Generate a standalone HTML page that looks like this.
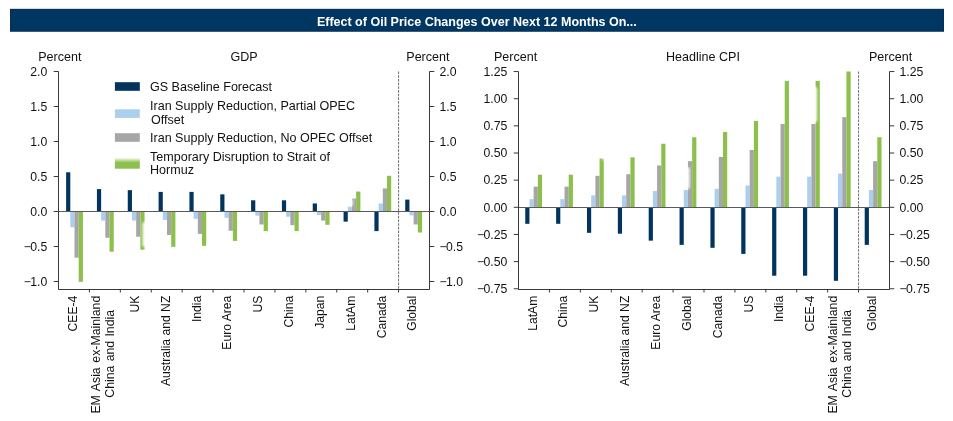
<!DOCTYPE html><html><head><meta charset="utf-8"><title>Effect of Oil Price Changes</title>
<style>html,body{margin:0;padding:0;background:#fff}body{width:953px;height:421px;overflow:hidden}svg{display:block;will-change:transform}text{font-family:"Liberation Sans",sans-serif;fill:#111}</style></head><body>
<svg width="953" height="421" viewBox="0 0 953 421">
<rect width="953" height="421" fill="#fff"/>
<rect x="10" y="8.9" width="934" height="22.7" fill="#003762"/>
<rect x="10.5" y="9.4" width="933" height="21.7" fill="none" stroke="#0a2d50" stroke-opacity="0.75" stroke-width="1"/>
<text x="476.85" y="25.8" text-anchor="middle" font-size="12.53" font-weight="bold" style="fill:#fff">Effect of Oil Price Changes Over Next 12 Months On...</text>
<rect x="66.10" y="172.30" width="4.2" height="39.20" fill="#02345d"/>
<rect x="70.30" y="211.50" width="4.2" height="15.75" fill="#abd0ee"/>
<rect x="74.50" y="211.50" width="4.2" height="46.20" fill="#a6a6a6"/>
<rect x="78.70" y="211.50" width="4.2" height="70.35" fill="#8cbf4b"/>
<rect x="96.93" y="189.10" width="4.2" height="22.40" fill="#02345d"/>
<rect x="101.13" y="211.50" width="4.2" height="9.10" fill="#abd0ee"/>
<rect x="105.33" y="211.50" width="4.2" height="26.25" fill="#a6a6a6"/>
<rect x="109.53" y="211.50" width="4.2" height="40.25" fill="#8cbf4b"/>
<rect x="127.76" y="190.15" width="4.2" height="21.35" fill="#02345d"/>
<rect x="131.96" y="211.50" width="4.2" height="9.10" fill="#abd0ee"/>
<rect x="136.16" y="211.50" width="4.2" height="25.20" fill="#a6a6a6"/>
<rect x="140.36" y="211.50" width="4.2" height="38.15" fill="#8cbf4b"/>
<rect x="158.59" y="191.90" width="4.2" height="19.60" fill="#02345d"/>
<rect x="162.79" y="211.50" width="4.2" height="8.40" fill="#abd0ee"/>
<rect x="166.99" y="211.50" width="4.2" height="23.45" fill="#a6a6a6"/>
<rect x="171.19" y="211.50" width="4.2" height="35.35" fill="#8cbf4b"/>
<rect x="189.42" y="191.90" width="4.2" height="19.60" fill="#02345d"/>
<rect x="193.62" y="211.50" width="4.2" height="7.35" fill="#abd0ee"/>
<rect x="197.82" y="211.50" width="4.2" height="22.40" fill="#a6a6a6"/>
<rect x="202.02" y="211.50" width="4.2" height="34.30" fill="#8cbf4b"/>
<rect x="220.25" y="194.35" width="4.2" height="17.15" fill="#02345d"/>
<rect x="224.45" y="211.50" width="4.2" height="6.30" fill="#abd0ee"/>
<rect x="228.65" y="211.50" width="4.2" height="19.25" fill="#a6a6a6"/>
<rect x="232.85" y="211.50" width="4.2" height="29.40" fill="#8cbf4b"/>
<rect x="251.08" y="200.30" width="4.2" height="11.20" fill="#02345d"/>
<rect x="255.28" y="211.50" width="4.2" height="4.20" fill="#abd0ee"/>
<rect x="259.48" y="211.50" width="4.2" height="12.95" fill="#a6a6a6"/>
<rect x="263.68" y="211.50" width="4.2" height="19.60" fill="#8cbf4b"/>
<rect x="281.91" y="200.30" width="4.2" height="11.20" fill="#02345d"/>
<rect x="286.11" y="211.50" width="4.2" height="5.25" fill="#abd0ee"/>
<rect x="290.31" y="211.50" width="4.2" height="13.65" fill="#a6a6a6"/>
<rect x="294.51" y="211.50" width="4.2" height="19.60" fill="#8cbf4b"/>
<rect x="312.74" y="203.45" width="4.2" height="8.05" fill="#02345d"/>
<rect x="316.94" y="211.50" width="4.2" height="3.50" fill="#abd0ee"/>
<rect x="321.14" y="211.50" width="4.2" height="9.10" fill="#a6a6a6"/>
<rect x="325.34" y="211.50" width="4.2" height="13.30" fill="#8cbf4b"/>
<rect x="343.57" y="211.50" width="4.2" height="10.15" fill="#02345d"/>
<rect x="347.77" y="206.60" width="4.2" height="4.90" fill="#abd0ee"/>
<rect x="351.97" y="198.55" width="4.2" height="12.95" fill="#a6a6a6"/>
<rect x="356.17" y="191.55" width="4.2" height="19.95" fill="#8cbf4b"/>
<rect x="374.40" y="211.50" width="4.2" height="19.60" fill="#02345d"/>
<rect x="378.60" y="203.45" width="4.2" height="8.05" fill="#abd0ee"/>
<rect x="382.80" y="188.40" width="4.2" height="23.10" fill="#a6a6a6"/>
<rect x="387.00" y="175.80" width="4.2" height="35.70" fill="#8cbf4b"/>
<rect x="405.23" y="199.60" width="4.2" height="11.90" fill="#02345d"/>
<rect x="409.43" y="211.50" width="4.2" height="3.85" fill="#abd0ee"/>
<rect x="413.63" y="211.50" width="4.2" height="12.95" fill="#a6a6a6"/>
<rect x="417.83" y="211.50" width="4.2" height="21.00" fill="#8cbf4b"/>
<line x1="58.5" x2="429.5" y1="211.5" y2="211.5" stroke="#5a5a5a" stroke-width="1"/>
<line x1="398.58" x2="398.58" y1="71.5" y2="289.5" stroke="#484848" stroke-width="0.8" stroke-dasharray="2.6,1.1"/>
<path d="M58.5 71.5V289.5H429.5V71.5" fill="none" stroke="#383838" stroke-width="1"/>
<line x1="53.7" x2="58.5" y1="71.50" y2="71.50" stroke="#383838" stroke-width="1"/>
<line x1="429.5" x2="434.3" y1="71.50" y2="71.50" stroke="#383838" stroke-width="1"/>
<text x="47.3" y="75.80" text-anchor="end" font-size="12.25">2.0</text>
<text x="439.5" y="75.80" text-anchor="start" font-size="12.25">2.0</text>
<line x1="53.7" x2="58.5" y1="106.50" y2="106.50" stroke="#383838" stroke-width="1"/>
<line x1="429.5" x2="434.3" y1="106.50" y2="106.50" stroke="#383838" stroke-width="1"/>
<text x="47.3" y="110.80" text-anchor="end" font-size="12.25">1.5</text>
<text x="439.5" y="110.80" text-anchor="start" font-size="12.25">1.5</text>
<line x1="53.7" x2="58.5" y1="141.50" y2="141.50" stroke="#383838" stroke-width="1"/>
<line x1="429.5" x2="434.3" y1="141.50" y2="141.50" stroke="#383838" stroke-width="1"/>
<text x="47.3" y="145.80" text-anchor="end" font-size="12.25">1.0</text>
<text x="439.5" y="145.80" text-anchor="start" font-size="12.25">1.0</text>
<line x1="53.7" x2="58.5" y1="176.50" y2="176.50" stroke="#383838" stroke-width="1"/>
<line x1="429.5" x2="434.3" y1="176.50" y2="176.50" stroke="#383838" stroke-width="1"/>
<text x="47.3" y="180.80" text-anchor="end" font-size="12.25">0.5</text>
<text x="439.5" y="180.80" text-anchor="start" font-size="12.25">0.5</text>
<line x1="53.7" x2="58.5" y1="211.50" y2="211.50" stroke="#383838" stroke-width="1"/>
<line x1="429.5" x2="434.3" y1="211.50" y2="211.50" stroke="#383838" stroke-width="1"/>
<text x="47.3" y="215.80" text-anchor="end" font-size="12.25">0.0</text>
<text x="439.5" y="215.80" text-anchor="start" font-size="12.25">0.0</text>
<line x1="53.7" x2="58.5" y1="246.50" y2="246.50" stroke="#383838" stroke-width="1"/>
<line x1="429.5" x2="434.3" y1="246.50" y2="246.50" stroke="#383838" stroke-width="1"/>
<text x="47.3" y="250.80" text-anchor="end" font-size="12.25">−<tspan dx="-0.7">0.5</tspan></text>
<text x="439.5" y="250.80" text-anchor="start" font-size="12.25">−<tspan dx="-0.7">0.5</tspan></text>
<line x1="53.7" x2="58.5" y1="281.50" y2="281.50" stroke="#383838" stroke-width="1"/>
<line x1="429.5" x2="434.3" y1="281.50" y2="281.50" stroke="#383838" stroke-width="1"/>
<text x="47.3" y="285.80" text-anchor="end" font-size="12.25">−<tspan dx="-0.7">1.0</tspan></text>
<text x="439.5" y="285.80" text-anchor="start" font-size="12.25">−<tspan dx="-0.7">1.0</tspan></text>
<line x1="89.42" x2="89.42" y1="289.5" y2="292.5" stroke="#383838" stroke-width="1"/>
<line x1="120.33" x2="120.33" y1="289.5" y2="292.5" stroke="#383838" stroke-width="1"/>
<line x1="151.25" x2="151.25" y1="289.5" y2="292.5" stroke="#383838" stroke-width="1"/>
<line x1="182.17" x2="182.17" y1="289.5" y2="292.5" stroke="#383838" stroke-width="1"/>
<line x1="213.08" x2="213.08" y1="289.5" y2="292.5" stroke="#383838" stroke-width="1"/>
<line x1="244.00" x2="244.00" y1="289.5" y2="292.5" stroke="#383838" stroke-width="1"/>
<line x1="274.92" x2="274.92" y1="289.5" y2="292.5" stroke="#383838" stroke-width="1"/>
<line x1="305.83" x2="305.83" y1="289.5" y2="292.5" stroke="#383838" stroke-width="1"/>
<line x1="336.75" x2="336.75" y1="289.5" y2="292.5" stroke="#383838" stroke-width="1"/>
<line x1="367.67" x2="367.67" y1="289.5" y2="292.5" stroke="#383838" stroke-width="1"/>
<line x1="398.58" x2="398.58" y1="289.5" y2="292.5" stroke="#383838" stroke-width="1"/>
<text transform="translate(77.20,295.7) rotate(-90)" text-anchor="end" font-size="12.15">CEE-4</text>
<text transform="translate(99.98,295.7) rotate(-90)" text-anchor="end" font-size="12.3" word-spacing="1.2">EM Asia ex-Mainland</text>
<text transform="translate(114.18,353.8) rotate(-90)" text-anchor="middle" font-size="12.3" word-spacing="0.8">China and India</text>
<text transform="translate(138.86,295.7) rotate(-90)" text-anchor="end" font-size="12.15">UK</text>
<text transform="translate(169.69,295.7) rotate(-90)" text-anchor="end" font-size="12.15">Australia and NZ</text>
<text transform="translate(200.52,295.7) rotate(-90)" text-anchor="end" font-size="12.15">India</text>
<text transform="translate(231.35,295.7) rotate(-90)" text-anchor="end" font-size="12.15">Euro Area</text>
<text transform="translate(262.18,295.7) rotate(-90)" text-anchor="end" font-size="12.15">US</text>
<text transform="translate(293.01,295.7) rotate(-90)" text-anchor="end" font-size="12.15">China</text>
<text transform="translate(323.84,295.7) rotate(-90)" text-anchor="end" font-size="12.15">Japan</text>
<text transform="translate(354.67,295.7) rotate(-90)" text-anchor="end" font-size="12.15">LatAm</text>
<text transform="translate(385.50,295.7) rotate(-90)" text-anchor="end" font-size="12.15">Canada</text>
<text transform="translate(416.33,295.7) rotate(-90)" text-anchor="end" font-size="12.15">Global</text>
<text x="244" y="60.7" text-anchor="middle" font-size="12.55">GDP</text>
<text x="59.8" y="60.7" text-anchor="middle" font-size="12.55">Percent</text>
<text x="427.9" y="60.7" text-anchor="middle" font-size="12.55">Percent</text>
<rect x="525.25" y="207.30" width="4.2" height="16.51" fill="#02345d"/>
<rect x="529.45" y="199.16" width="4.2" height="8.15" fill="#abd0ee"/>
<rect x="533.65" y="186.67" width="4.2" height="20.63" fill="#a6a6a6"/>
<rect x="537.85" y="174.72" width="4.2" height="32.58" fill="#8cbf4b"/>
<rect x="556.11" y="207.30" width="4.2" height="16.51" fill="#02345d"/>
<rect x="560.31" y="199.16" width="4.2" height="8.15" fill="#abd0ee"/>
<rect x="564.51" y="186.67" width="4.2" height="20.63" fill="#a6a6a6"/>
<rect x="568.71" y="174.72" width="4.2" height="32.58" fill="#8cbf4b"/>
<rect x="586.97" y="207.30" width="4.2" height="25.52" fill="#02345d"/>
<rect x="591.17" y="195.35" width="4.2" height="11.95" fill="#abd0ee"/>
<rect x="595.37" y="175.81" width="4.2" height="31.49" fill="#a6a6a6"/>
<rect x="599.57" y="158.43" width="4.2" height="48.87" fill="#8cbf4b"/>
<rect x="617.83" y="207.30" width="4.2" height="26.39" fill="#02345d"/>
<rect x="622.03" y="195.35" width="4.2" height="11.95" fill="#abd0ee"/>
<rect x="626.23" y="174.18" width="4.2" height="33.12" fill="#a6a6a6"/>
<rect x="630.43" y="157.34" width="4.2" height="49.96" fill="#8cbf4b"/>
<rect x="648.69" y="207.30" width="4.2" height="33.34" fill="#02345d"/>
<rect x="652.89" y="191.01" width="4.2" height="16.29" fill="#abd0ee"/>
<rect x="657.09" y="165.49" width="4.2" height="41.81" fill="#a6a6a6"/>
<rect x="661.29" y="143.77" width="4.2" height="63.53" fill="#8cbf4b"/>
<rect x="679.55" y="207.30" width="4.2" height="37.58" fill="#02345d"/>
<rect x="683.75" y="189.92" width="4.2" height="17.38" fill="#abd0ee"/>
<rect x="687.95" y="161.15" width="4.2" height="46.16" fill="#a6a6a6"/>
<rect x="692.15" y="137.25" width="4.2" height="70.05" fill="#8cbf4b"/>
<rect x="710.41" y="207.30" width="4.2" height="40.51" fill="#02345d"/>
<rect x="714.61" y="188.84" width="4.2" height="18.46" fill="#abd0ee"/>
<rect x="718.81" y="156.91" width="4.2" height="50.39" fill="#a6a6a6"/>
<rect x="723.01" y="131.93" width="4.2" height="75.37" fill="#8cbf4b"/>
<rect x="741.27" y="207.30" width="4.2" height="46.59" fill="#02345d"/>
<rect x="745.47" y="185.58" width="4.2" height="21.72" fill="#abd0ee"/>
<rect x="749.67" y="149.96" width="4.2" height="57.34" fill="#a6a6a6"/>
<rect x="753.87" y="120.85" width="4.2" height="86.45" fill="#8cbf4b"/>
<rect x="772.13" y="207.30" width="4.2" height="68.42" fill="#02345d"/>
<rect x="776.33" y="176.67" width="4.2" height="30.63" fill="#abd0ee"/>
<rect x="780.53" y="124.00" width="4.2" height="83.30" fill="#a6a6a6"/>
<rect x="784.73" y="80.89" width="4.2" height="126.41" fill="#8cbf4b"/>
<rect x="802.99" y="207.30" width="4.2" height="68.42" fill="#02345d"/>
<rect x="807.19" y="176.67" width="4.2" height="30.63" fill="#abd0ee"/>
<rect x="811.39" y="124.00" width="4.2" height="83.30" fill="#a6a6a6"/>
<rect x="815.59" y="80.89" width="4.2" height="126.41" fill="#8cbf4b"/>
<rect x="833.85" y="207.30" width="4.2" height="73.52" fill="#02345d"/>
<rect x="838.05" y="173.63" width="4.2" height="33.67" fill="#abd0ee"/>
<rect x="842.25" y="117.16" width="4.2" height="90.14" fill="#a6a6a6"/>
<rect x="846.45" y="71.50" width="4.2" height="135.80" fill="#8cbf4b"/>
<rect x="864.71" y="207.30" width="4.2" height="37.58" fill="#02345d"/>
<rect x="868.91" y="189.92" width="4.2" height="17.38" fill="#abd0ee"/>
<rect x="873.11" y="161.15" width="4.2" height="46.16" fill="#a6a6a6"/>
<rect x="877.31" y="137.25" width="4.2" height="70.05" fill="#8cbf4b"/>
<line x1="518.5" x2="889.5" y1="207.5" y2="207.5" stroke="#5a5a5a" stroke-width="1"/>
<line x1="858.58" x2="858.58" y1="71.5" y2="289.5" stroke="#484848" stroke-width="0.8" stroke-dasharray="2.6,1.1"/>
<path d="M518.5 71.5V289.5H889.5V71.5" fill="none" stroke="#383838" stroke-width="1"/>
<line x1="513.7" x2="518.5" y1="71.55" y2="71.55" stroke="#383838" stroke-width="1"/>
<line x1="889.5" x2="894.3" y1="71.55" y2="71.55" stroke="#383838" stroke-width="1"/>
<text x="507.3" y="75.85" text-anchor="end" font-size="12.25">1.25</text>
<text x="899.5" y="75.85" text-anchor="start" font-size="12.25">1.25</text>
<line x1="513.7" x2="518.5" y1="98.70" y2="98.70" stroke="#383838" stroke-width="1"/>
<line x1="889.5" x2="894.3" y1="98.70" y2="98.70" stroke="#383838" stroke-width="1"/>
<text x="507.3" y="103.00" text-anchor="end" font-size="12.25">1.00</text>
<text x="899.5" y="103.00" text-anchor="start" font-size="12.25">1.00</text>
<line x1="513.7" x2="518.5" y1="125.85" y2="125.85" stroke="#383838" stroke-width="1"/>
<line x1="889.5" x2="894.3" y1="125.85" y2="125.85" stroke="#383838" stroke-width="1"/>
<text x="507.3" y="130.15" text-anchor="end" font-size="12.25">0.75</text>
<text x="899.5" y="130.15" text-anchor="start" font-size="12.25">0.75</text>
<line x1="513.7" x2="518.5" y1="153.00" y2="153.00" stroke="#383838" stroke-width="1"/>
<line x1="889.5" x2="894.3" y1="153.00" y2="153.00" stroke="#383838" stroke-width="1"/>
<text x="507.3" y="157.30" text-anchor="end" font-size="12.25">0.50</text>
<text x="899.5" y="157.30" text-anchor="start" font-size="12.25">0.50</text>
<line x1="513.7" x2="518.5" y1="180.15" y2="180.15" stroke="#383838" stroke-width="1"/>
<line x1="889.5" x2="894.3" y1="180.15" y2="180.15" stroke="#383838" stroke-width="1"/>
<text x="507.3" y="184.45" text-anchor="end" font-size="12.25">0.25</text>
<text x="899.5" y="184.45" text-anchor="start" font-size="12.25">0.25</text>
<line x1="513.7" x2="518.5" y1="207.30" y2="207.30" stroke="#383838" stroke-width="1"/>
<line x1="889.5" x2="894.3" y1="207.30" y2="207.30" stroke="#383838" stroke-width="1"/>
<text x="507.3" y="211.60" text-anchor="end" font-size="12.25">0.00</text>
<text x="899.5" y="211.60" text-anchor="start" font-size="12.25">0.00</text>
<line x1="513.7" x2="518.5" y1="234.45" y2="234.45" stroke="#383838" stroke-width="1"/>
<line x1="889.5" x2="894.3" y1="234.45" y2="234.45" stroke="#383838" stroke-width="1"/>
<text x="507.3" y="238.75" text-anchor="end" font-size="12.25">−<tspan dx="-0.7">0.25</tspan></text>
<text x="899.5" y="238.75" text-anchor="start" font-size="12.25">−<tspan dx="-0.7">0.25</tspan></text>
<line x1="513.7" x2="518.5" y1="261.60" y2="261.60" stroke="#383838" stroke-width="1"/>
<line x1="889.5" x2="894.3" y1="261.60" y2="261.60" stroke="#383838" stroke-width="1"/>
<text x="507.3" y="265.90" text-anchor="end" font-size="12.25">−<tspan dx="-0.7">0.50</tspan></text>
<text x="899.5" y="265.90" text-anchor="start" font-size="12.25">−<tspan dx="-0.7">0.50</tspan></text>
<line x1="513.7" x2="518.5" y1="288.75" y2="288.75" stroke="#383838" stroke-width="1"/>
<line x1="889.5" x2="894.3" y1="288.75" y2="288.75" stroke="#383838" stroke-width="1"/>
<text x="507.3" y="293.05" text-anchor="end" font-size="12.25">−<tspan dx="-0.7">0.75</tspan></text>
<text x="899.5" y="293.05" text-anchor="start" font-size="12.25">−<tspan dx="-0.7">0.75</tspan></text>
<line x1="549.42" x2="549.42" y1="289.5" y2="292.5" stroke="#383838" stroke-width="1"/>
<line x1="580.33" x2="580.33" y1="289.5" y2="292.5" stroke="#383838" stroke-width="1"/>
<line x1="611.25" x2="611.25" y1="289.5" y2="292.5" stroke="#383838" stroke-width="1"/>
<line x1="642.17" x2="642.17" y1="289.5" y2="292.5" stroke="#383838" stroke-width="1"/>
<line x1="673.08" x2="673.08" y1="289.5" y2="292.5" stroke="#383838" stroke-width="1"/>
<line x1="704.00" x2="704.00" y1="289.5" y2="292.5" stroke="#383838" stroke-width="1"/>
<line x1="734.92" x2="734.92" y1="289.5" y2="292.5" stroke="#383838" stroke-width="1"/>
<line x1="765.83" x2="765.83" y1="289.5" y2="292.5" stroke="#383838" stroke-width="1"/>
<line x1="796.75" x2="796.75" y1="289.5" y2="292.5" stroke="#383838" stroke-width="1"/>
<line x1="827.67" x2="827.67" y1="289.5" y2="292.5" stroke="#383838" stroke-width="1"/>
<line x1="858.58" x2="858.58" y1="289.5" y2="292.5" stroke="#383838" stroke-width="1"/>
<text transform="translate(536.55,295.7) rotate(-90)" text-anchor="end" font-size="12.15">LatAm</text>
<text transform="translate(567.41,295.7) rotate(-90)" text-anchor="end" font-size="12.15">China</text>
<text transform="translate(598.27,295.7) rotate(-90)" text-anchor="end" font-size="12.15">UK</text>
<text transform="translate(629.13,295.7) rotate(-90)" text-anchor="end" font-size="12.15">Australia and NZ</text>
<text transform="translate(659.99,295.7) rotate(-90)" text-anchor="end" font-size="12.15">Euro Area</text>
<text transform="translate(690.85,295.7) rotate(-90)" text-anchor="end" font-size="12.15">Global</text>
<text transform="translate(721.71,295.7) rotate(-90)" text-anchor="end" font-size="12.15">Canada</text>
<text transform="translate(752.57,295.7) rotate(-90)" text-anchor="end" font-size="12.15">US</text>
<text transform="translate(783.43,295.7) rotate(-90)" text-anchor="end" font-size="12.15">India</text>
<text transform="translate(814.29,295.7) rotate(-90)" text-anchor="end" font-size="12.15">CEE-4</text>
<text transform="translate(836.90,295.7) rotate(-90)" text-anchor="end" font-size="12.3" word-spacing="1.2">EM Asia ex-Mainland</text>
<text transform="translate(851.10,353.8) rotate(-90)" text-anchor="middle" font-size="12.3" word-spacing="0.8">China and India</text>
<text transform="translate(876.01,295.7) rotate(-90)" text-anchor="end" font-size="12.15">Global</text>
<text x="703" y="60.7" text-anchor="middle" font-size="12.55">Headline CPI</text>
<text x="515.6" y="60.7" text-anchor="middle" font-size="12.55">Percent</text>
<text x="890.6" y="60.7" text-anchor="middle" font-size="12.55">Percent</text>
<defs><filter id="bl" x="-100%" y="-50%" width="300%" height="200%"><feGaussianBlur stdDeviation="0.9"/></filter><linearGradient id="gsw" x1="0" y1="0" x2="0" y2="1"><stop offset="0" stop-color="#8cbf4b" stop-opacity="0"/><stop offset="0.45" stop-color="#8cbf4b" stop-opacity="1"/><stop offset="1" stop-color="#8cbf4b"/></linearGradient></defs>
<rect x="142.4" y="222" width="4.6" height="25" rx="2" fill="#fff" fill-opacity="0.9" filter="url(#bl)"/>
<rect x="812.6" y="87" width="4.6" height="35" rx="2" fill="#fff" fill-opacity="0.9" filter="url(#bl)"/>
<rect x="685.2" y="167" width="4.6" height="22" rx="2" fill="#fff" fill-opacity="0.9" filter="url(#bl)"/>
<rect x="348.6" y="198.5" width="4.6" height="8" rx="2" fill="#fff" fill-opacity="0.75" filter="url(#bl)"/>
<rect x="601.3" y="156.3" width="4.8" height="4" rx="1.5" fill="#fff" fill-opacity="0.6" filter="url(#bl)"/>
<rect x="114.9" y="82.2" width="24.9" height="8.6" fill="#02345d"/>
<text x="150" y="90.6" font-size="12.55">GS Baseline Forecast</text>
<rect x="114.9" y="109.3" width="24.9" height="8.6" fill="#abd0ee"/>
<text x="150" y="110.3" font-size="12.55">Iran Supply Reduction, Partial OPEC</text>
<text x="151.0" y="123.7" font-size="12.55">Offset</text>
<rect x="114.9" y="133.2" width="24.9" height="8.6" fill="#a6a6a6"/>
<text x="150" y="141.8" font-size="12.55">Iran Supply Reduction, No OPEC Offset</text>
<rect x="114.9" y="157.6" width="24.9" height="11.1" fill="url(#gsw)"/>
<text x="150" y="160.9" font-size="12.55">Temporary Disruption to Strait of</text>
<text x="150" y="174.3" font-size="12.55">Hormuz</text>
</svg></body></html>
